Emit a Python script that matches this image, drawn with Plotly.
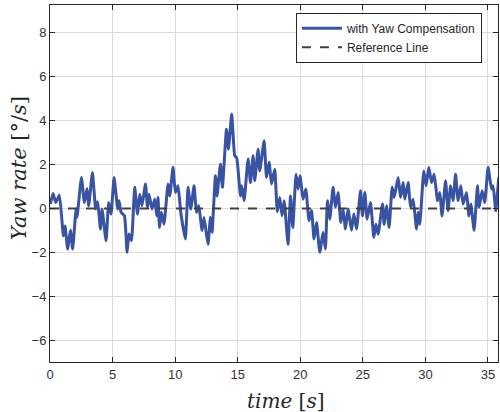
import plotly.graph_objects as go

time_s = [0.03, 0.24, 0.46, 0.75, 1.07, 1.20, 1.41, 1.63, 1.81, 2.08, 2.16, 2.51, 2.75, 2.96, 3.09,
          3.39, 3.65, 3.81, 4.03, 4.16, 4.48, 4.69, 4.88, 5.12, 5.41, 5.52, 5.68, 5.95, 6.16, 6.31,
          6.51, 6.77, 6.99, 7.17, 7.35, 7.63, 7.79, 7.91, 8.15, 8.37, 8.53, 8.63, 8.75, 8.90, 9.11,
          9.43, 9.57, 9.83, 10.02, 10.23, 10.45, 10.82, 11.03, 11.25, 11.51, 11.70, 11.89, 12.15,
          12.31, 12.50, 12.63, 12.82, 12.95, 13.22, 13.35, 13.62, 13.78, 14.10, 14.26, 14.52, 14.76,
          14.92, 15.22, 15.32, 15.51, 15.83, 16.02, 16.23, 16.36, 16.63, 16.76, 17.11, 17.30, 17.51,
          17.70, 17.96, 18.16, 18.36, 18.54, 18.71, 19.02, 19.22, 19.40, 19.66, 19.82, 19.98, 20.22,
          20.44, 20.70, 20.90, 21.10, 21.30, 21.56, 21.82, 22.01, 22.17, 22.36, 22.62, 22.81, 23.02,
          23.24, 23.42, 23.61, 23.82, 24.09, 24.28, 24.50, 24.81, 24.97, 25.16, 25.34, 25.61, 25.88,
          26.04, 26.22, 26.57, 26.70, 26.89, 27.10, 27.34, 27.50, 27.82, 28.01, 28.22, 28.35, 28.62,
          28.81, 29.02, 29.29, 29.42, 29.55, 29.87, 30.05, 30.27, 30.49, 30.70, 30.97, 31.15, 31.33,
          31.61, 31.81, 32.01, 32.21, 32.41, 32.61, 32.83, 33.01, 33.29, 33.47, 33.63, 33.89, 34.16,
          34.29, 34.53, 34.74, 35.01, 35.28, 35.41, 35.62, 35.86]

yaw_rate = [0.20, 0.68, 0.27, 0.60, -1.25, -0.80, -1.85, -1.00, -1.85, -0.03, -0.40, 1.41, 0.27, 0.91, 0.12,
            1.64, -0.03, 0.30, -0.94, -0.03, -1.47, 0.27, -0.26, 1.41, -0.03, 0.35, -0.18, -0.34, -2.00, -1.17,
            -1.47, 0.96, -0.26, 0.65, 0.12, 1.11, 0.05, 0.65, -0.03, 0.42, -0.34, 0.50, -0.87, -0.18, -0.72,
            1.11, 0.57, 1.87, 0.73, 1.03, -0.18, -1.40, 0.96, -0.03, 1.03, -0.18, 0.12, -1.00,
            -0.41, -1.17, -1.63, -0.41, -1.09, 1.49, 0.57, 2.02, 0.96, 3.61, 2.70, 4.30, 2.40,
            2.30, 0.57, 1.03, 0.35, 2.25, 1.18, 2.40, 1.26, 2.70, 1.71, 3.08, 1.41, 2.10,
            1.11, 1.79, -0.15, 0.50, -0.34, 0.35, -1.63, 0.57, -0.87, 1.56, 0.88, 1.49, 0.42,
            0.88, -0.56, -0.10, -1.40, -0.64, -2.00, -1.09, -1.85, 0.35, -0.49, 0.96, 0.05, 0.73,
            -0.64, -0.03, -0.94, -0.03, -1.00, -0.26, -0.94, 0.80, -0.34, 0.73, -0.49, 0.27, -1.32,
            -0.72, -1.17, 0.20, -0.72, 0.12, -0.87, 0.96, 0.50, 1.41, 0.50, 1.18, 0.42, 1.18,
            0.05, 0.42, -0.94, -0.18, -0.72, 1.71, 1.03, 1.87, 1.18, 1.56, 0.35, 0.73, -0.34,
            1.26, -0.10, 1.03, 0.35, 1.56, 0.35, 1.03, 0.20, 0.73, -0.34, 0.20, -1.00, 1.03,
            0.05, 0.80, 0.27, 1.87, 0.88, 1.03, -0.10, 1.41]

ref_time = [0, 36]
ref_value = [0, 0]

x_ticks = [0, 5, 10, 15, 20, 25, 30, 35]
y_ticks = [-6, -4, -2, 0, 2, 4, 6, 8]

fig = go.Figure()
fig.add_trace(go.Scatter(x=time_s, y=yaw_rate, mode="lines", name="with Yaw Compensation",
                         line=dict(color="rgb(57,83,164)", width=3, shape="spline", smoothing=0.4)))
fig.add_trace(go.Scatter(x=ref_time, y=ref_value, mode="lines", name="Reference Line",
                         line=dict(color="#404040", width=2, dash="dash")))

axis_common = dict(showline=True, linecolor="#262626", linewidth=1, mirror="allticks",
                   ticks="inside", ticklen=5, tickcolor="#262626",
                   showgrid=True, gridcolor="#DCDCDC", gridwidth=1, zeroline=False,
                   tickfont=dict(family="Arial, Liberation Sans", size=13, color="#333333"))

fig.update_xaxes(range=[0, 35.8], tickvals=x_ticks, **axis_common)
fig.update_yaxes(range=[-7, 9.27], tickvals=y_ticks, **axis_common)

fig.update_layout(
    width=500, height=412,
    margin=dict(l=50, r=2, t=5, b=50),
    paper_bgcolor="white", plot_bgcolor="white",
    showlegend=True,
    legend=dict(x=0.549, y=0.978, xanchor="left", yanchor="top",
                bgcolor="white", bordercolor="#262626", borderwidth=1,
                font=dict(family="Arial, Liberation Sans", size=12, color="#262626"),
                itemwidth=40, tracegroupgap=0),
    annotations=[
        dict(text="<i>time</i> [<i>s</i>]", xref="paper", yref="paper",
             x=0.526, y=-0.109, xanchor="center", yanchor="middle", showarrow=False,
             font=dict(family="DejaVu Serif", size=20, color="#262626")),
        dict(text="<i>Yaw rate</i> [°/<i>s</i>]", xref="paper", yref="paper",
             x=-0.069, y=0.543, xanchor="center", yanchor="middle", showarrow=False,
             textangle=-90,
             font=dict(family="DejaVu Serif", size=21, color="#262626")),
    ],
)

fig.write_html("out.html")
